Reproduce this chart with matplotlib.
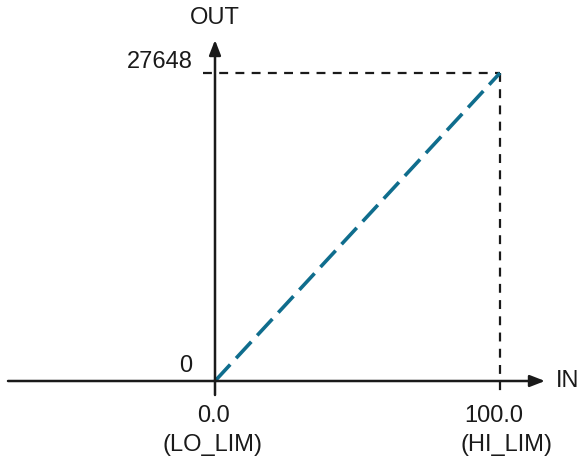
import matplotlib
matplotlib.use("Agg")
import matplotlib.pyplot as plt

# scaling: IN range -> OUT range
in_vals = [0.0, 100.0]
out_vals = [0, 27648]
in_labels = ["0.0", "100.0"]
in_names = ["(LO_LIM)", "(HI_LIM)"]
out_labels = ["0", "27648"]

plt.rcParams['font.family'] = ['Liberation Sans', 'DejaVu Sans']

fig = plt.figure(figsize=(5.79, 4.62), dpi=100)
ax = fig.add_axes([0, 0, 1, 1])
ax.axis("off")

# pixel layout: origin at (215, 381), top point at (500, 73)
sx = (in_vals[1] - in_vals[0]) / (500 - 215)
sy = (out_vals[1] - out_vals[0]) / (381 - 73)
ax.set_xlim(in_vals[0] - 215 * sx, in_vals[0] + (579 - 215) * sx)
ax.set_ylim(out_vals[0] - (462 - 381) * sy, out_vals[0] + 381 * sy)

def px(dx):
    return dx * sx

def py(dy):
    return dy * sy

ink = "#1a1a1a"
teal = "#0f6d8d"

# axes with arrows
ax.annotate("", xy=(in_vals[0] + px(330), out_vals[0]), xytext=(in_vals[0] - px(207), out_vals[0]),
            arrowprops=dict(arrowstyle="-|>,head_length=0.9,head_width=0.35", color=ink, lw=1.8,
                            shrinkA=0, shrinkB=0))
ax.annotate("", xy=(in_vals[0], out_vals[0] + py(341)), xytext=(in_vals[0], out_vals[0] - py(14)),
            arrowprops=dict(arrowstyle="-|>,head_length=0.9,head_width=0.35", color=ink, lw=1.8,
                            shrinkA=0, shrinkB=0))

# dashed guide lines
ax.plot([in_vals[0] - px(12), in_vals[1]], [out_vals[1], out_vals[1]], color=ink, lw=1.6,
        dashes=(4, 3.3))
ax.plot([in_vals[1], in_vals[1]], [out_vals[1], out_vals[0] - py(14)], color=ink, lw=1.6,
        dashes=(4, 3.3))

# scaling line
ax.plot(in_vals, out_vals, color=teal, lw=2.6, dashes=(6.2, 2.4), solid_capstyle="butt")

# labels
fs = 17
ax.annotate("OUT", (in_vals[0], out_vals[0] + py(341)), xytext=(0, 8), textcoords="offset points",
            ha="center", va="bottom", fontsize=fs, color=ink)
ax.annotate("IN", (in_vals[0] + px(330), out_vals[0]), xytext=(8, 0), textcoords="offset points",
            ha="left", va="center", fontsize=fs, color=ink)
ax.annotate(out_labels[1], (in_vals[0], out_vals[1]), xytext=(-16, 8), textcoords="offset points",
            ha="right", va="center", fontsize=fs, color=ink)
ax.annotate(out_labels[0], (in_vals[0], out_vals[0]), xytext=(-21, 11), textcoords="offset points",
            ha="center", va="center", fontsize=fs, color=ink)
val_dx = [-1, -4.5]
name_dx = [-2, 4.5]
for x, lab, name, dv, dn in zip(in_vals, in_labels, in_names, val_dx, name_dx):
    ax.annotate(lab, (x, out_vals[0]), xytext=(dv, -25), textcoords="offset points",
                ha="center", va="center", fontsize=fs, color=ink)
    ax.annotate(name, (x, out_vals[0]), xytext=(dn, -46), textcoords="offset points",
                ha="center", va="center", fontsize=fs, color=ink)

fig.savefig("out.png", dpi=100)
